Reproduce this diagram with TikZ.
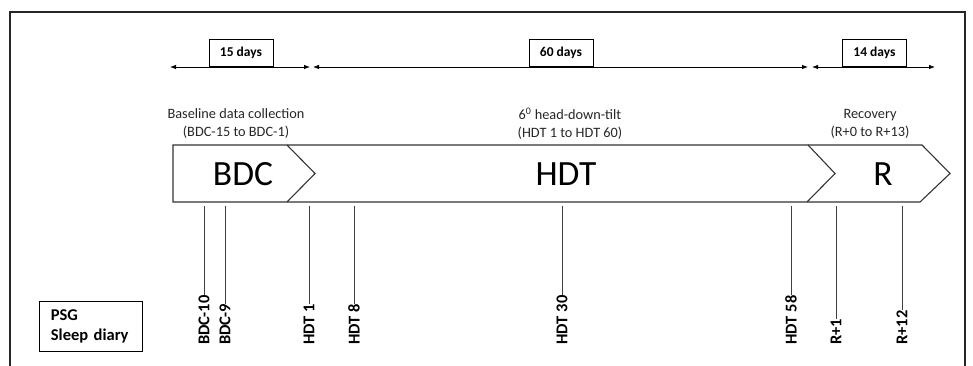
\documentclass[tikz,border=0pt]{standalone}
\usepackage{fontspec}
\setmainfont{Carlito}
\usetikzlibrary{arrows.meta}
\begin{document}
\begin{tikzpicture}[x=1pt,y=-1pt,
  frameline/.style={line width=1.4pt, draw=black!85},
  dimarrow/.style={line width=0.8pt, {Latex[length=6pt,width=4.5pt]}-{Latex[length=6pt,width=4.5pt]}},
  daybox/.style={draw, line width=0.8pt, font=\bfseries\fontsize{13.5}{15}\selectfont, minimum width=64pt, minimum height=27pt, inner sep=0pt, anchor=south},
  phasetitle/.style={font=\fontsize{14.3}{18}\selectfont, align=center, text=black!85},
  phasename/.style={font=\fontsize{35.5}{40}\selectfont, inner sep=0pt},
  shapeline/.style={line width=1.1pt, draw=black!80, line join=miter},
  tickline/.style={line width=0.8pt, draw=black!75},
  ticklabel/.style={rotate=90, anchor=west, font=\bfseries\fontsize{16.5}{18}\selectfont, inner sep=0pt},
  legendbox/.style={draw, line width=0.8pt, font=\bfseries\fontsize{16.5}{20}\selectfont, align=left, minimum width=103pt, minimum height=50pt, text width=96pt, inner sep=0pt, anchor=north west}
]
\useasboundingbox (0,0) rectangle (973,366);

% frame (bottom edge lies outside the picture)
\draw[frameline] (10,366) -- (10,12) -- (965,12) -- (965,366);

% duration arrows
\coordinate (a1s) at (170,67); \coordinate (a1e) at (310,67);
\coordinate (a2s) at (313,67); \coordinate (a2e) at (808,67);
\coordinate (a3s) at (812,67); \coordinate (a3e) at (935,67);
\draw[dimarrow] (a1s) -- (a1e);
\draw[dimarrow] (a2s) -- (a2e);
\draw[dimarrow] (a3s) -- (a3e);
\node[daybox] (d15) at (241,67) {15 days};
\node[daybox] (d60) at (561,67) {60 days};
\node[daybox] (d14) at (874.5,67) {14 days};

% phase titles
\node[phasetitle] (tbdc) at (236,124) {Baseline data collection\\(BDC-15 to BDC-1)};
\node[phasetitle] (thdt) at (570,124) {6\textsuperscript{0} head-down-tilt\\(HDT 1 to HDT 60)};
\node[phasetitle] (tr) at (870,124) {Recovery\\(R+0 to R+13)};

% phase bar
\draw[shapeline] (173,145) -- (922,145) -- (950,173.5) -- (920,202) -- (173,202) -- cycle;
\draw[shapeline] (287,145) -- (315,173.5) -- (287,202);
\draw[shapeline] (808,145) -- (835,173.5) -- (807,202);
\node[phasename] (pbdc) at (243,174) {BDC};
\node[phasename] (phdt) at (566,174) {HDT};
\node[phasename] (pr) at (883,174) {R};

% measurement days
\foreach \x/\lab/\nm in {204/BDC-10/m1, 225/BDC-9/m2, 309/HDT 1/m3, 354/HDT 8/m4, 562/HDT 30/m5, 791/HDT 58/m6, 836/R+1/m7, 902/R+12/m8}{
  \coordinate (\nm top) at (\x,206);
  \node[ticklabel] (\nm) at (\x,345) {\lab};
  \draw[tickline] (\nm top) -- (\nm.east);
}

% legend
\node[legendbox] (legend) at (39,301) {\hspace*{8pt}PSG\\\hspace*{8pt}Sleep diary};
\end{tikzpicture}
\end{document}
